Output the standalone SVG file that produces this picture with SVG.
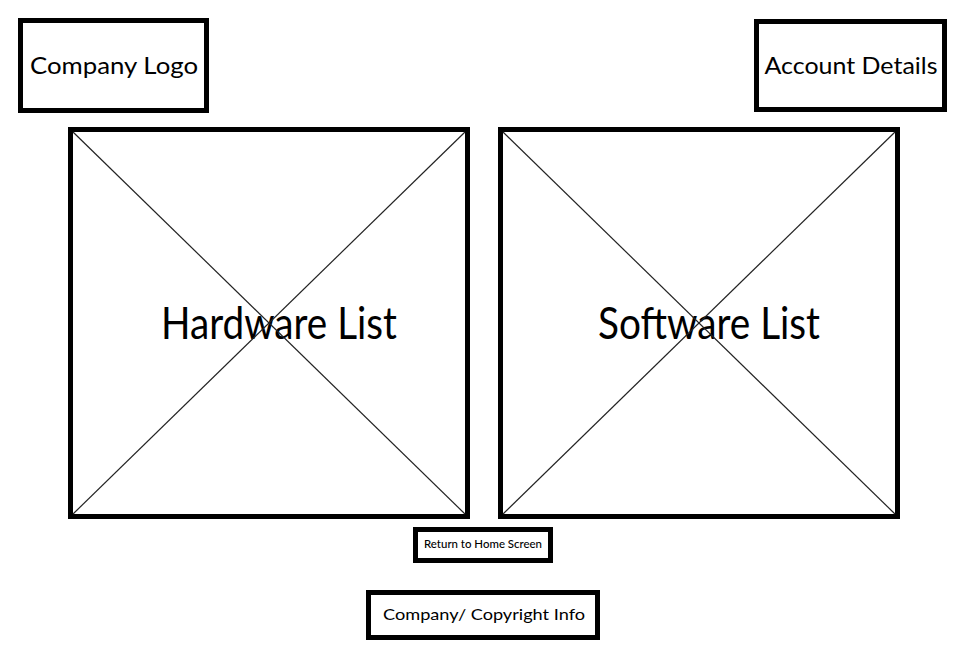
<svg xmlns="http://www.w3.org/2000/svg" width="967" height="651" viewBox="0 0 967 651">
<style>
.box{fill:#fff;stroke:#000;stroke-width:5}
.x{stroke:#222;stroke-width:1.2;fill:none}
text{font-family:Lato,"Open Sans","Liberation Sans",sans-serif;fill:#000;text-anchor:middle}
.m{font-size:23px}
.l{font-size:45px}
.s{font-size:10.5px;font-weight:500}
.c{font-size:16px}
</style>
<rect width="967" height="651" fill="#fff"/>
<g id="company-logo">
<rect class="box" x="20.5" y="20.5" width="186" height="90"/>
<text class="m" x="114" y="74" textLength="168" lengthAdjust="spacingAndGlyphs">Company Logo</text>
</g>
<g id="account-details">
<rect class="box" x="756.5" y="21.5" width="188" height="88"/>
<text class="m" x="851" y="74" textLength="173" lengthAdjust="spacingAndGlyphs">Account Details</text>
</g>
<g id="hardware-list">
<rect class="box" x="70.5" y="129.5" width="397" height="387"/>
<text class="l" x="279" y="339" textLength="236" lengthAdjust="spacingAndGlyphs">Hardware List</text>
</g>
<g id="software-list">
<rect class="box" x="500.5" y="129.5" width="397" height="387"/>
<text class="l" x="709" y="339" textLength="222" lengthAdjust="spacingAndGlyphs">Software List</text>
</g>
<g id="connectors">
<line class="x" x1="73" y1="132" x2="465" y2="514"/>
<line class="x" x1="465" y1="132" x2="73" y2="514"/>
<line class="x" x1="503" y1="132" x2="895" y2="514"/>
<line class="x" x1="895" y1="132" x2="503" y2="514"/>
</g>
<g id="return-home">
<rect class="box" x="415.5" y="529.5" width="135" height="31"/>
<text class="s" x="483" y="548" textLength="118" lengthAdjust="spacingAndGlyphs">Return to Home Screen</text>
</g>
<g id="copyright">
<rect class="box" x="368.5" y="592.5" width="229" height="45"/>
<text class="c" x="484" y="620" textLength="202" lengthAdjust="spacingAndGlyphs">Company/ Copyright Info</text>
</g>
</svg>
